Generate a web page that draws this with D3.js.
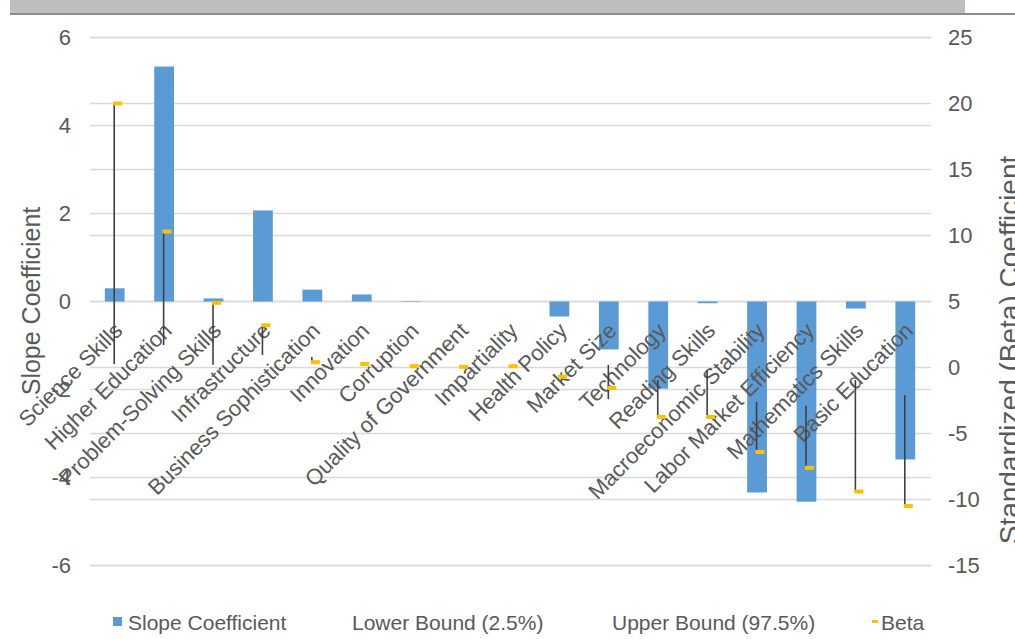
<!DOCTYPE html>
<html>
<head>
<meta charset="utf-8">
<script src="https://cdn.jsdelivr.net/npm/d3@7"></script>
<style>
  body { margin: 0; background: #fff; }
  svg { display: block; font-family: "Liberation Sans", Arial, sans-serif; }
</style>
</head>
<body>
<svg id="chart" width="1015" height="639"></svg>
<script>
// Regression drivers, ordered as on the category axis
const categories = [
  "Science Skills", "Higher Education", "Problem-Solving Skills", "Infrastructure",
  "Business Sophistication", "Innovation", "Corruption", "Quality of Government",
  "Impartiality", "Health Policy", "Market Size", "Technology", "Reading Skills",
  "Macroeconomic Stability", "Labor Market Efficiency", "Mathematics Skills", "Basic Education"
];

// Slope coefficient (primary axis)
const slopeCoefficient = [0.30, 5.34, 0.07, 2.07, 0.27, 0.16, 0.01, 0.0, 0.0, -0.34, -1.09, -1.98, -0.04, -4.34, -4.55, -0.16, -3.59];

// Confidence bounds and standardized beta (secondary axis)
const lowerBound = [0.27, 1.7, 0.2, 0.95, 0.4, 0.27, 0.1, 0.05, 0.1, -0.7, -2.4, -3.75, -3.75, -6.4, -7.6, -9.4, -10.5];
const upperBound = [20.0, 10.3, 4.9, 3.2, 0.8, 0.27, 0.1, 0.05, 0.1, -0.7, 0.2, -0.95, -0.2, -2.6, -2.9, -0.95, -2.1];
const beta = [20.0, 10.3, 4.9, 3.2, 0.4, 0.27, 0.1, 0.05, 0.1, -0.7, -1.55, -3.75, -3.75, -6.4, -7.6, -9.4, -10.5];

const leftTicks = [-6, -4, -2, 0, 2, 4, 6];
const rightTicks = [-15, -10, -5, 0, 5, 10, 15, 20, 25];

const legendItems = [
  { label: "Slope Coefficient", kind: "bar" },
  { label: "Lower Bound (2.5%)", kind: "none" },
  { label: "Upper Bound (97.5%)", kind: "none" },
  { label: "Beta", kind: "beta" }
];

const BAR = "#5b9bd5", GOLD = "#ffc000", GRID = "#d9d9d9", TEXT = "#595959", LINE = "#404040";

const svg = d3.select("#chart");
const plot = { left: 90, right: 931, top: 37.5, bottom: 565.5 };

// header strip
svg.append("rect").attr("x", 10).attr("y", 0).attr("width", 955).attr("height", 13).attr("fill", "#bdbec0");
svg.append("rect").attr("x", 10).attr("y", 13).attr("width", 1005).attr("height", 2).attr("fill", "#8c8c8c");

const x = d3.scaleBand().domain(categories).range([plot.left, plot.right - 1]).paddingInner(0.6).paddingOuter(0.3);
const yL = d3.scaleLinear().domain([-6, 6]).range([plot.bottom, plot.top]);
const yR = d3.scaleLinear().domain([-15, 25]).range([plot.bottom, plot.top]);

// gridlines for both axes
const grid = svg.append("g");
grid.selectAll("line.l").data(leftTicks).join("line")
  .attr("x1", plot.left).attr("x2", plot.right)
  .attr("y1", d => yL(d)).attr("y2", d => yL(d))
  .attr("stroke", GRID).attr("stroke-width", 1.5);
grid.selectAll("line.r").data(rightTicks).join("line")
  .attr("x1", plot.left).attr("x2", plot.right)
  .attr("y1", d => yR(d)).attr("y2", d => yR(d))
  .attr("stroke", GRID).attr("stroke-width", 1.5);

const plainNumber = d => String(d);

// left axis labels
const axisL = d3.axisLeft(yL).tickValues(leftTicks).tickSize(0).tickPadding(0).tickFormat(plainNumber);
const gL = svg.append("g").attr("transform", "translate(71,0)").call(axisL);
gL.select(".domain").remove();
gL.selectAll("text").attr("fill", TEXT).style("font-size", "22px").style("font-family", "Liberation Sans, Arial, sans-serif");

// right axis labels
const axisR = d3.axisRight(yR).tickValues(rightTicks).tickSize(0).tickPadding(0).tickFormat(plainNumber);
const gR = svg.append("g").attr("transform", "translate(948,0)").call(axisR);
gR.select(".domain").remove();
gR.selectAll("text").attr("fill", TEXT).style("font-size", "22px").style("font-family", "Liberation Sans, Arial, sans-serif");

// bars
svg.append("g").selectAll("rect").data(categories).join("rect")
  .attr("x", d => x(d))
  .attr("width", x.bandwidth())
  .attr("y", (d, i) => Math.min(yL(slopeCoefficient[i]), yL(0)))
  .attr("height", (d, i) => Math.abs(yL(slopeCoefficient[i]) - yL(0)))
  .attr("fill", BAR);

// category labels, rotated along the zero line
svg.append("g").selectAll("text").data(categories).join("text")
  .attr("transform", d => `translate(${x(d) + x.bandwidth() / 2 + 9},${332}) rotate(-45)`)
  .attr("text-anchor", "end")
  .attr("fill", TEXT)
  .style("font-size", "22px")
  .text(d => d);

// high-low lines spanning bounds and beta
svg.append("g").selectAll("line").data(categories).join("line")
  .attr("x1", d => x(d) + x.bandwidth() / 2 - 0.5)
  .attr("x2", d => x(d) + x.bandwidth() / 2 - 0.5)
  .attr("y1", (d, i) => yR(Math.max(lowerBound[i], upperBound[i], beta[i])))
  .attr("y2", (d, i) => yR(Math.min(lowerBound[i], upperBound[i], beta[i])))
  .attr("stroke", LINE).attr("stroke-width", 1.6);

// beta markers
svg.append("g").selectAll("rect").data(categories).join("rect")
  .attr("x", d => x(d) + x.bandwidth() / 2 - 1.5)
  .attr("y", (d, i) => yR(beta[i]) - 2)
  .attr("width", 9).attr("height", 4)
  .attr("fill", GOLD);

// axis titles
svg.append("text")
  .attr("transform", "translate(40,301) rotate(-90)")
  .attr("text-anchor", "middle").attr("fill", TEXT)
  .style("font-size", "25px")
  .text("Slope Coefficient");
svg.append("text")
  .attr("transform", "translate(1019,350) rotate(-90)")
  .attr("text-anchor", "middle").attr("fill", TEXT)
  .style("font-size", "28px")
  .text("Standardized (Beta) Coefficient");

// legend
const legendX = [113, 352, 612, 872];
const lg = svg.append("g").selectAll("g").data(legendItems).join("g")
  .attr("transform", (d, i) => `translate(${legendX[i]},622)`);
lg.filter(d => d.kind === "bar").append("rect")
  .attr("x", 0).attr("y", -5).attr("width", 9).attr("height", 9).attr("fill", BAR);
lg.filter(d => d.kind === "beta").append("rect")
  .attr("x", 0).attr("y", -2).attr("width", 6).attr("height", 3).attr("fill", GOLD);
lg.append("text")
  .attr("x", d => d.kind === "bar" ? 15 : (d.kind === "beta" ? 9 : 0))
  .attr("y", 8)
  .attr("fill", TEXT)
  .style("font-size", "21px")
  .text(d => d.label);
</script>
</body>
</html>
